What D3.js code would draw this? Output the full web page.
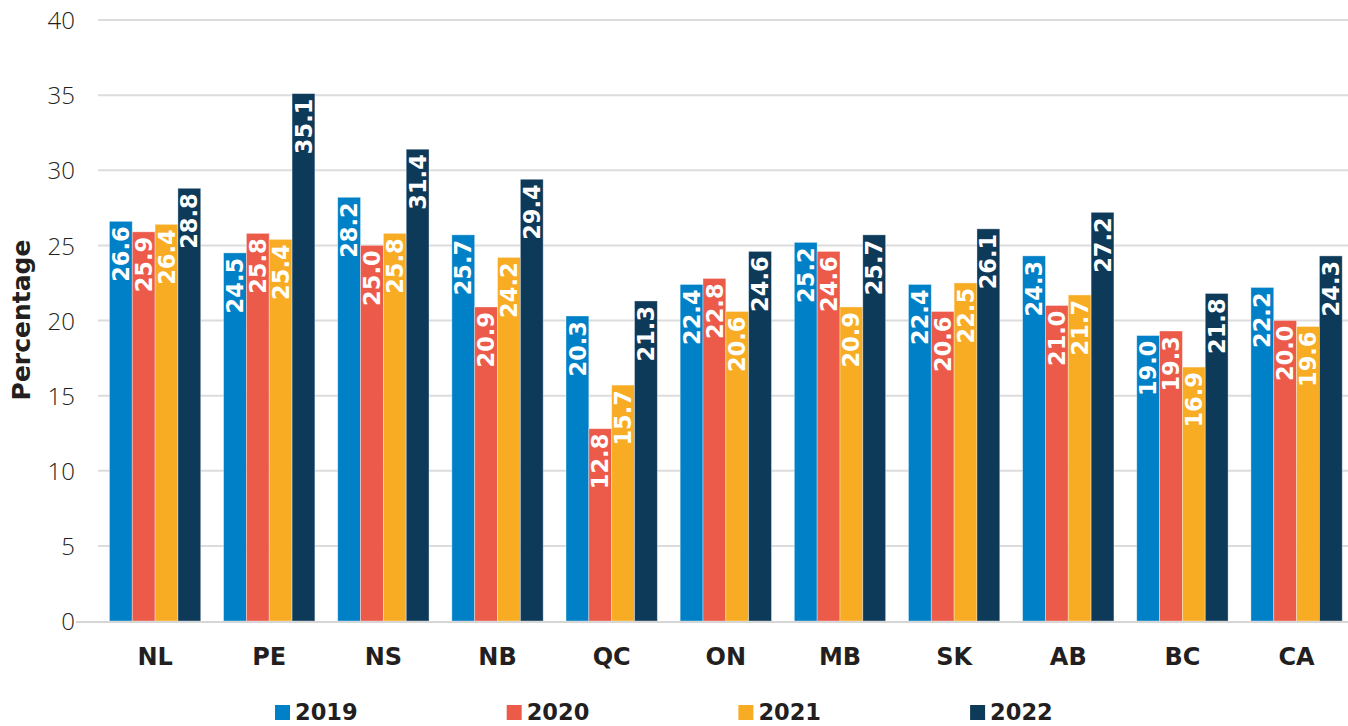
<!DOCTYPE html>
<html>
<head>
<meta charset="utf-8">
<script src="https://cdn.jsdelivr.net/npm/d3@7"></script>
<style>
  body { margin: 0; background: #fff; }
  svg { display: block; }
  .tick-label { font-family: "Open Sans", sans-serif; font-weight: 300; font-size: 24px; fill: #231f20; }
  .cat-label { font-family: "DejaVu Sans", sans-serif; font-weight: bold; font-size: 24px; fill: #231f20; }
  .val-label { font-family: "DejaVu Sans", sans-serif; font-weight: bold; font-size: 22.5px; fill: #fff; }
  .legend-label { font-family: "DejaVu Sans", sans-serif; font-weight: bold; font-size: 22.5px; fill: #231f20; }
  .axis-title { font-family: "DejaVu Sans", sans-serif; font-weight: bold; font-size: 25px; fill: #231f20; }
</style>
</head>
<body>
<div id="chart"></div>
<script>
var svgWidth = 1348;
var svgHeight = 726;

// data
var provinces = ["NL", "PE", "NS", "NB", "QC", "ON", "MB", "SK", "AB", "BC", "CA"];
var years = ["2019", "2020", "2021", "2022"];
var values2019 = [26.6, 24.5, 28.2, 25.7, 20.3, 22.4, 25.2, 22.4, 24.3, 19.0, 22.2];
var values2020 = [25.9, 25.8, 25.0, 20.9, 12.8, 22.8, 24.6, 20.6, 21.0, 19.3, 20.0];
var values2021 = [26.4, 25.4, 25.8, 24.2, 15.7, 20.6, 20.9, 22.5, 21.7, 16.9, 19.6];
var values2022 = [28.8, 35.1, 31.4, 29.4, 21.3, 24.6, 25.7, 26.1, 27.2, 21.8, 24.3];
var yTicks = [0, 5, 10, 15, 20, 25, 30, 35, 40];

var colors = ["#0080c6", "#ec5a4a", "#f8ac23", "#0e3a5a"];
var series = [values2019, values2020, values2021, values2022];

var data = [];
provinces.forEach(function(p, i) {
  years.forEach(function(y, j) {
    data.push({ prov: p, year: y, value: series[j][i] });
  });
});

var svg = d3.select("#chart")
  .append("svg")
  .attr("width", svgWidth)
  .attr("height", svgHeight);

var xScale = d3.scaleBand()
  .domain(provinces)
  .range([98, 98 + 11 * 114.15])
  .paddingInner(0.2)
  .paddingOuter(0.1);

var x1 = d3.scaleBand()
  .domain(years)
  .range([0, xScale.bandwidth()]);

var yScale = d3.scaleLinear()
  .domain([0, 40])
  .range([621, 20]);

// gridlines
svg.append("g")
  .selectAll("line")
  .data(yTicks.filter(d => d > 0))
  .enter()
  .append("line")
  .attr("x1", 98)
  .attr("x2", svgWidth)
  .attr("y1", d => yScale(d))
  .attr("y2", d => yScale(d))
  .attr("stroke", "#dcdcdc")
  .attr("stroke-width", 2);

// y axis labels
var leftAxis = d3.axisLeft(yScale).tickValues(yTicks).tickSize(0).tickPadding(0);
var yAxis = svg.append("g")
  .attr("transform", "translate(75, 0)")
  .call(leftAxis);
yAxis.select(".domain").remove();
yAxis.selectAll("text")
  .attr("class", "tick-label")
  .attr("dy", "0.36em")
  .attr("font-size", null)
  .attr("font-family", null);

// bars
var groups = svg.append("g")
  .selectAll("g")
  .data(provinces)
  .enter()
  .append("g")
  .attr("transform", d => `translate(${xScale(d)}, 0)`);

var bars = groups.selectAll("rect")
  .data(d => data.filter(e => e.prov === d))
  .enter()
  .append("rect")
  .attr("x", d => x1(d.year))
  .attr("y", d => yScale(d.value))
  .attr("width", x1.bandwidth())
  .attr("height", d => yScale(0) - yScale(d.value))
  .attr("fill", d => colors[years.indexOf(d.year)])
  .attr("stroke", "#ffffff")
  .attr("stroke-opacity", 0.45)
  .attr("stroke-width", 0.8);

groups.selectAll("text")
  .data(d => data.filter(e => e.prov === d))
  .enter()
  .append("text")
  .attr("class", "val-label")
  .attr("transform", d => `translate(${x1(d.year) + x1.bandwidth() / 2}, ${yScale(d.value)}) rotate(-90)`)
  .attr("x", -5)
  .attr("dy", "0.36em")
  .attr("text-anchor", "end")
  .text(d => d.value.toFixed(1));

// baseline
svg.append("line")
  .attr("x1", 76)
  .attr("x2", svgWidth)
  .attr("y1", yScale(0) + 1)
  .attr("y2", yScale(0) + 1)
  .attr("stroke", "#d6d6d6")
  .attr("stroke-width", 2);

// x labels
var bottomAxis = d3.axisBottom(xScale).tickSize(0).tickPadding(0);
var xAxis = svg.append("g")
  .attr("transform", "translate(0, 665)")
  .call(bottomAxis);
xAxis.select(".domain").remove();
xAxis.selectAll("text")
  .attr("class", "cat-label")
  .attr("dy", 0)
  .attr("y", 0)
  .attr("font-size", null)
  .attr("font-family", null);

// y axis title
svg.append("text")
  .attr("class", "axis-title")
  .attr("transform", "translate(30, 320) rotate(-90)")
  .attr("text-anchor", "middle")
  .text("Percentage");

// legend
var legend = svg.append("g")
  .selectAll("g")
  .data(years)
  .enter()
  .append("g")
  .attr("transform", (d, i) => `translate(${275 + i * 231.7}, 0)`);

legend.append("rect")
  .attr("x", 0)
  .attr("y", 705)
  .attr("width", 15)
  .attr("height", 15)
  .attr("fill", (d, i) => colors[i]);

legend.append("text")
  .attr("class", "legend-label")
  .attr("x", 20)
  .attr("y", 720)
  .text(d => d);
</script>
</body>
</html>
